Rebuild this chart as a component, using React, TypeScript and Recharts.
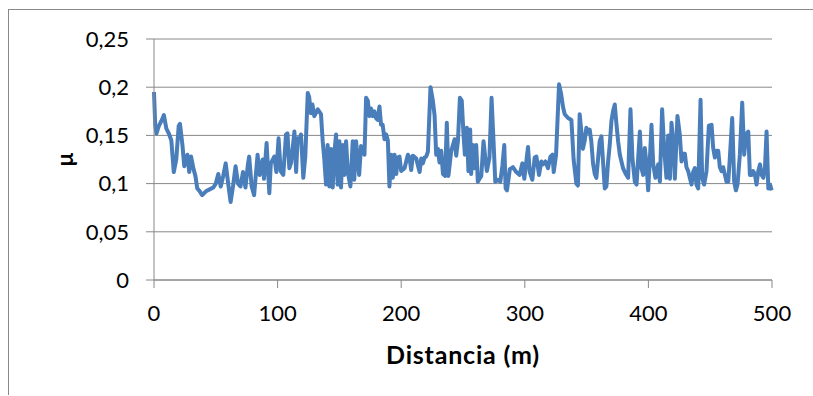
import { CartesianGrid, Line, LineChart, XAxis, YAxis } from "recharts";

// distance along the track (m) and friction coefficient μ
const distance = [
  0, 1, 2, 4, 6, 8, 10, 12, 14, 16, 18, 20, 21, 23, 24.5, 27, 28.5, 30, 32, 33.5,
  35, 37, 39, 42, 45, 48, 50, 52, 54, 56, 58, 60, 62, 64, 66, 68, 70, 72, 74, 76,
  77, 79, 81, 83.8, 85.5, 87.9, 89, 91.1, 93.3, 94.5, 97.3, 99, 100.8, 102.5, 104.6, 106.8, 108, 109.5, 111, 113.6,
  115, 116.2, 117.5, 118.9, 120.8, 122.4, 124.4, 125.5, 127, 128.2, 129.7, 132.5, 135.1, 136.5, 137.8, 139.2, 140.5, 141.9, 143.2, 144.6,
  146, 147.3, 148.6, 150, 151.3, 152.7, 154, 155.4, 156.8, 158.9, 160.8, 162, 163.5, 165, 166, 167.5, 169, 170.3, 171.6, 173,
  174.3, 175.6, 177, 178.3, 179.6, 181, 182.4, 183.7, 185, 186.5, 187.8, 189.2, 190.5, 191.9, 193.2, 194.6, 196, 197.3, 198.6, 200,
  202.7, 205.4, 206.7, 208.1, 209.4, 212.2, 213.5, 214.9, 216.2, 217.5, 218.9, 220.2, 221.6, 223.7, 225.6, 227, 228.3, 229.7, 231, 232.4,
  233.8, 235.6, 236.9, 238.2, 240.5, 243.2, 244.5, 245.9, 247.5, 249, 250.5, 251.5, 253.1, 254.4, 255.8, 256.6, 258, 259.4, 260.7, 262,
  263.4, 264.8, 266.6, 268, 269.3, 271.4, 273.1, 274.7, 276.1, 278.3, 280.2, 281.9, 283.4, 284.5, 285.6, 287.9, 290.4, 293.1, 295.8, 298,
  299.6, 302.6, 304, 306.1, 308, 309.4, 311.5, 313.4, 314.8, 316.7, 318.8, 320.7, 322.4, 323.4, 325.3, 327.7, 329.4, 331, 332.3, 335,
  337.7, 339.5, 341.7, 343, 344.4, 345.7, 347, 348.4, 349.8, 351.1, 352.5, 353.8, 355.2, 356.6, 357.9, 359.3, 360.6, 362, 363.3, 364.7,
  366, 367.4, 368.7, 370.1, 371.4, 372.8, 374.2, 375.5, 376.9, 378.2, 379.5, 380.9, 382.2, 383.6, 385.5, 387.1, 389, 390.4, 391.7, 393.1,
  394.4, 395.8, 397.1, 398.5, 399.8, 401.2, 402.5, 403.9, 405.7, 407.9, 409.3, 411.1, 412.7, 414.6, 416, 417.4, 418.7, 420.1, 421.4, 423.5,
  425.4, 426.8, 428.1, 429.5, 430.8, 432.2, 433.5, 434.9, 436.2, 437.6, 438.9, 440.3, 442.2, 443.5, 445.1, 447, 448.9, 451.1, 452.4, 453.8,
  455.1, 456.5, 457.8, 459.2, 460.5, 461.9, 463.2, 464.6, 465.9, 467.8, 469.4, 470.8, 472.1, 474, 475.9, 477.5, 478.9, 480.8, 482.1, 483.5,
  484.8, 486.2, 487.5, 488.9, 490.3, 491.6, 493, 494.3, 495.6, 497, 498.4, 499.7,
];

const mu = [
  0.195, 0.16, 0.152, 0.16, 0.165, 0.171, 0.157, 0.152, 0.145, 0.112, 0.125, 0.16, 0.162, 0.14, 0.118, 0.13, 0.112, 0.128, 0.115, 0.108,
  0.095, 0.092, 0.088, 0.092, 0.094, 0.096, 0.1, 0.11, 0.097, 0.108, 0.121, 0.1, 0.081, 0.098, 0.118, 0.1, 0.097, 0.112, 0.096, 0.12,
  0.128, 0.097, 0.088, 0.13, 0.109, 0.125, 0.105, 0.142, 0.09, 0.121, 0.128, 0.112, 0.147, 0.113, 0.109, 0.151, 0.152, 0.116, 0.122, 0.154,
  0.112, 0.147, 0.145, 0.151, 0.106, 0.128, 0.194, 0.19, 0.173, 0.182, 0.17, 0.177, 0.172, 0.144, 0.125, 0.099, 0.14, 0.097, 0.136, 0.096,
  0.133, 0.151, 0.099, 0.144, 0.096, 0.14, 0.109, 0.144, 0.112, 0.097, 0.144, 0.104, 0.144, 0.121, 0.109, 0.139, 0.133, 0.13, 0.189, 0.186,
  0.17, 0.178, 0.17, 0.175, 0.168, 0.166, 0.18, 0.161, 0.161, 0.146, 0.151, 0.145, 0.097, 0.13, 0.106, 0.13, 0.11, 0.127, 0.128, 0.113,
  0.116, 0.13, 0.127, 0.114, 0.129, 0.126, 0.119, 0.112, 0.126, 0.121, 0.127, 0.128, 0.133, 0.2, 0.186, 0.171, 0.13, 0.136, 0.122, 0.134,
  0.11, 0.108, 0.163, 0.108, 0.134, 0.146, 0.129, 0.144, 0.189, 0.186, 0.149, 0.13, 0.158, 0.113, 0.156, 0.11, 0.14, 0.116, 0.14, 0.102,
  0.105, 0.108, 0.144, 0.127, 0.113, 0.127, 0.189, 0.144, 0.102, 0.104, 0.102, 0.119, 0.14, 0.095, 0.093, 0.115, 0.117, 0.112, 0.109, 0.121,
  0.105, 0.138, 0.112, 0.104, 0.127, 0.128, 0.109, 0.123, 0.12, 0.123, 0.116, 0.128, 0.13, 0.112, 0.13, 0.203, 0.193, 0.179, 0.172, 0.168,
  0.166, 0.125, 0.1, 0.098, 0.172, 0.155, 0.136, 0.144, 0.158, 0.153, 0.156, 0.144, 0.121, 0.11, 0.106, 0.126, 0.144, 0.149, 0.123, 0.095,
  0.097, 0.123, 0.14, 0.165, 0.175, 0.182, 0.161, 0.144, 0.13, 0.123, 0.116, 0.112, 0.109, 0.106, 0.177, 0.126, 0.102, 0.099, 0.126, 0.154,
  0.116, 0.109, 0.137, 0.12, 0.093, 0.126, 0.161, 0.12, 0.106, 0.12, 0.102, 0.177, 0.137, 0.106, 0.15, 0.105, 0.163, 0.144, 0.105, 0.17,
  0.151, 0.123, 0.131, 0.131, 0.117, 0.113, 0.106, 0.099, 0.112, 0.116, 0.099, 0.095, 0.187, 0.106, 0.099, 0.113, 0.16, 0.161, 0.137, 0.127,
  0.134, 0.134, 0.117, 0.113, 0.117, 0.109, 0.102, 0.102, 0.127, 0.168, 0.102, 0.093, 0.099, 0.13, 0.184, 0.13, 0.151, 0.154, 0.109, 0.109,
  0.113, 0.109, 0.099, 0.113, 0.12, 0.109, 0.106, 0.116, 0.154, 0.095, 0.099, 0.093,
];

const xTicks = [0, 100, 200, 300, 400, 500];
const yTicks = [0, 0.05, 0.1, 0.15, 0.2, 0.25];

const data = distance.map((d, i) => ({ d, mu: mu[i] }));

const FONT = "Lato, 'Open Sans', sans-serif";
const GRAY = "#888888";

const fmtComma = (v: number) => String(v).replace(".", ",");

function YTitle(props: any) {
  const vb = props.viewBox || { x: 0, y: 0, width: 0, height: 0 };
  const cx = vb.x + 55;
  const cy = vb.y + vb.height / 2;
  return (
    <text
      x={cx}
      y={cy}
      transform={`rotate(-90, ${cx}, ${cy})`}
      textAnchor="middle"
      dominantBaseline="central"
      fontSize={22}
      fontWeight="bold"
      fill="#000"
      fontFamily={FONT}
    >
      μ
    </text>
  );
}

function XTitle(props: any) {
  const vb = props.viewBox || { x: 0, y: 0, width: 0, height: 0 };
  return (
    <text
      x={vb.x + vb.width / 2}
      y={vb.y + 84}
      textAnchor="middle"
      fontSize={25}
      fontWeight="bold"
      letterSpacing={0.8}
      fill="#000"
      fontFamily={FONT}
    >
      Distancia (m)
    </text>
  );
}

export default function App() {
  return (
    <div
      style={{
        position: "absolute",
        left: 8,
        top: 9,
        width: 805,
        height: 386,
        boxSizing: "border-box",
        borderTop: `1px solid ${GRAY}`,
        borderLeft: `1px solid ${GRAY}`,
        background: "#fff",
        fontFamily: FONT,
      }}
    >
      <LineChart
        width={804}
        height={385}
        data={data}
        margin={{ top: 29, right: 41, bottom: 20, left: 0 }}
      >
        <CartesianGrid vertical={false} stroke={GRAY} strokeWidth={1} />
        <XAxis
          dataKey="d"
          type="number"
          domain={[0, 500]}
          ticks={xTicks}
          interval={0}
          height={95}
          tickSize={8}
          tickMargin={17}
          axisLine={{ stroke: GRAY }}
          tickLine={{ stroke: GRAY }}
          tick={{ fill: "#000", fontSize: 22, fontFamily: FONT }}
          label={<XTitle />}
        />
        <YAxis
          type="number"
          domain={[0, 0.25]}
          ticks={yTicks}
          interval={0}
          width={145}
          tickSize={8}
          tickMargin={17}
          tickFormatter={fmtComma}
          axisLine={{ stroke: GRAY }}
          tickLine={{ stroke: GRAY }}
          tick={{ fill: "#000", fontSize: 22, fontFamily: FONT }}
          label={<YTitle />}
        />
        <Line
          type="linear"
          dataKey="mu"
          stroke="#4A7EBB"
          strokeWidth={4}
          strokeLinejoin="round"
          dot={false}
          activeDot={false}
          isAnimationActive={false}
        />
      </LineChart>
    </div>
  );
}
